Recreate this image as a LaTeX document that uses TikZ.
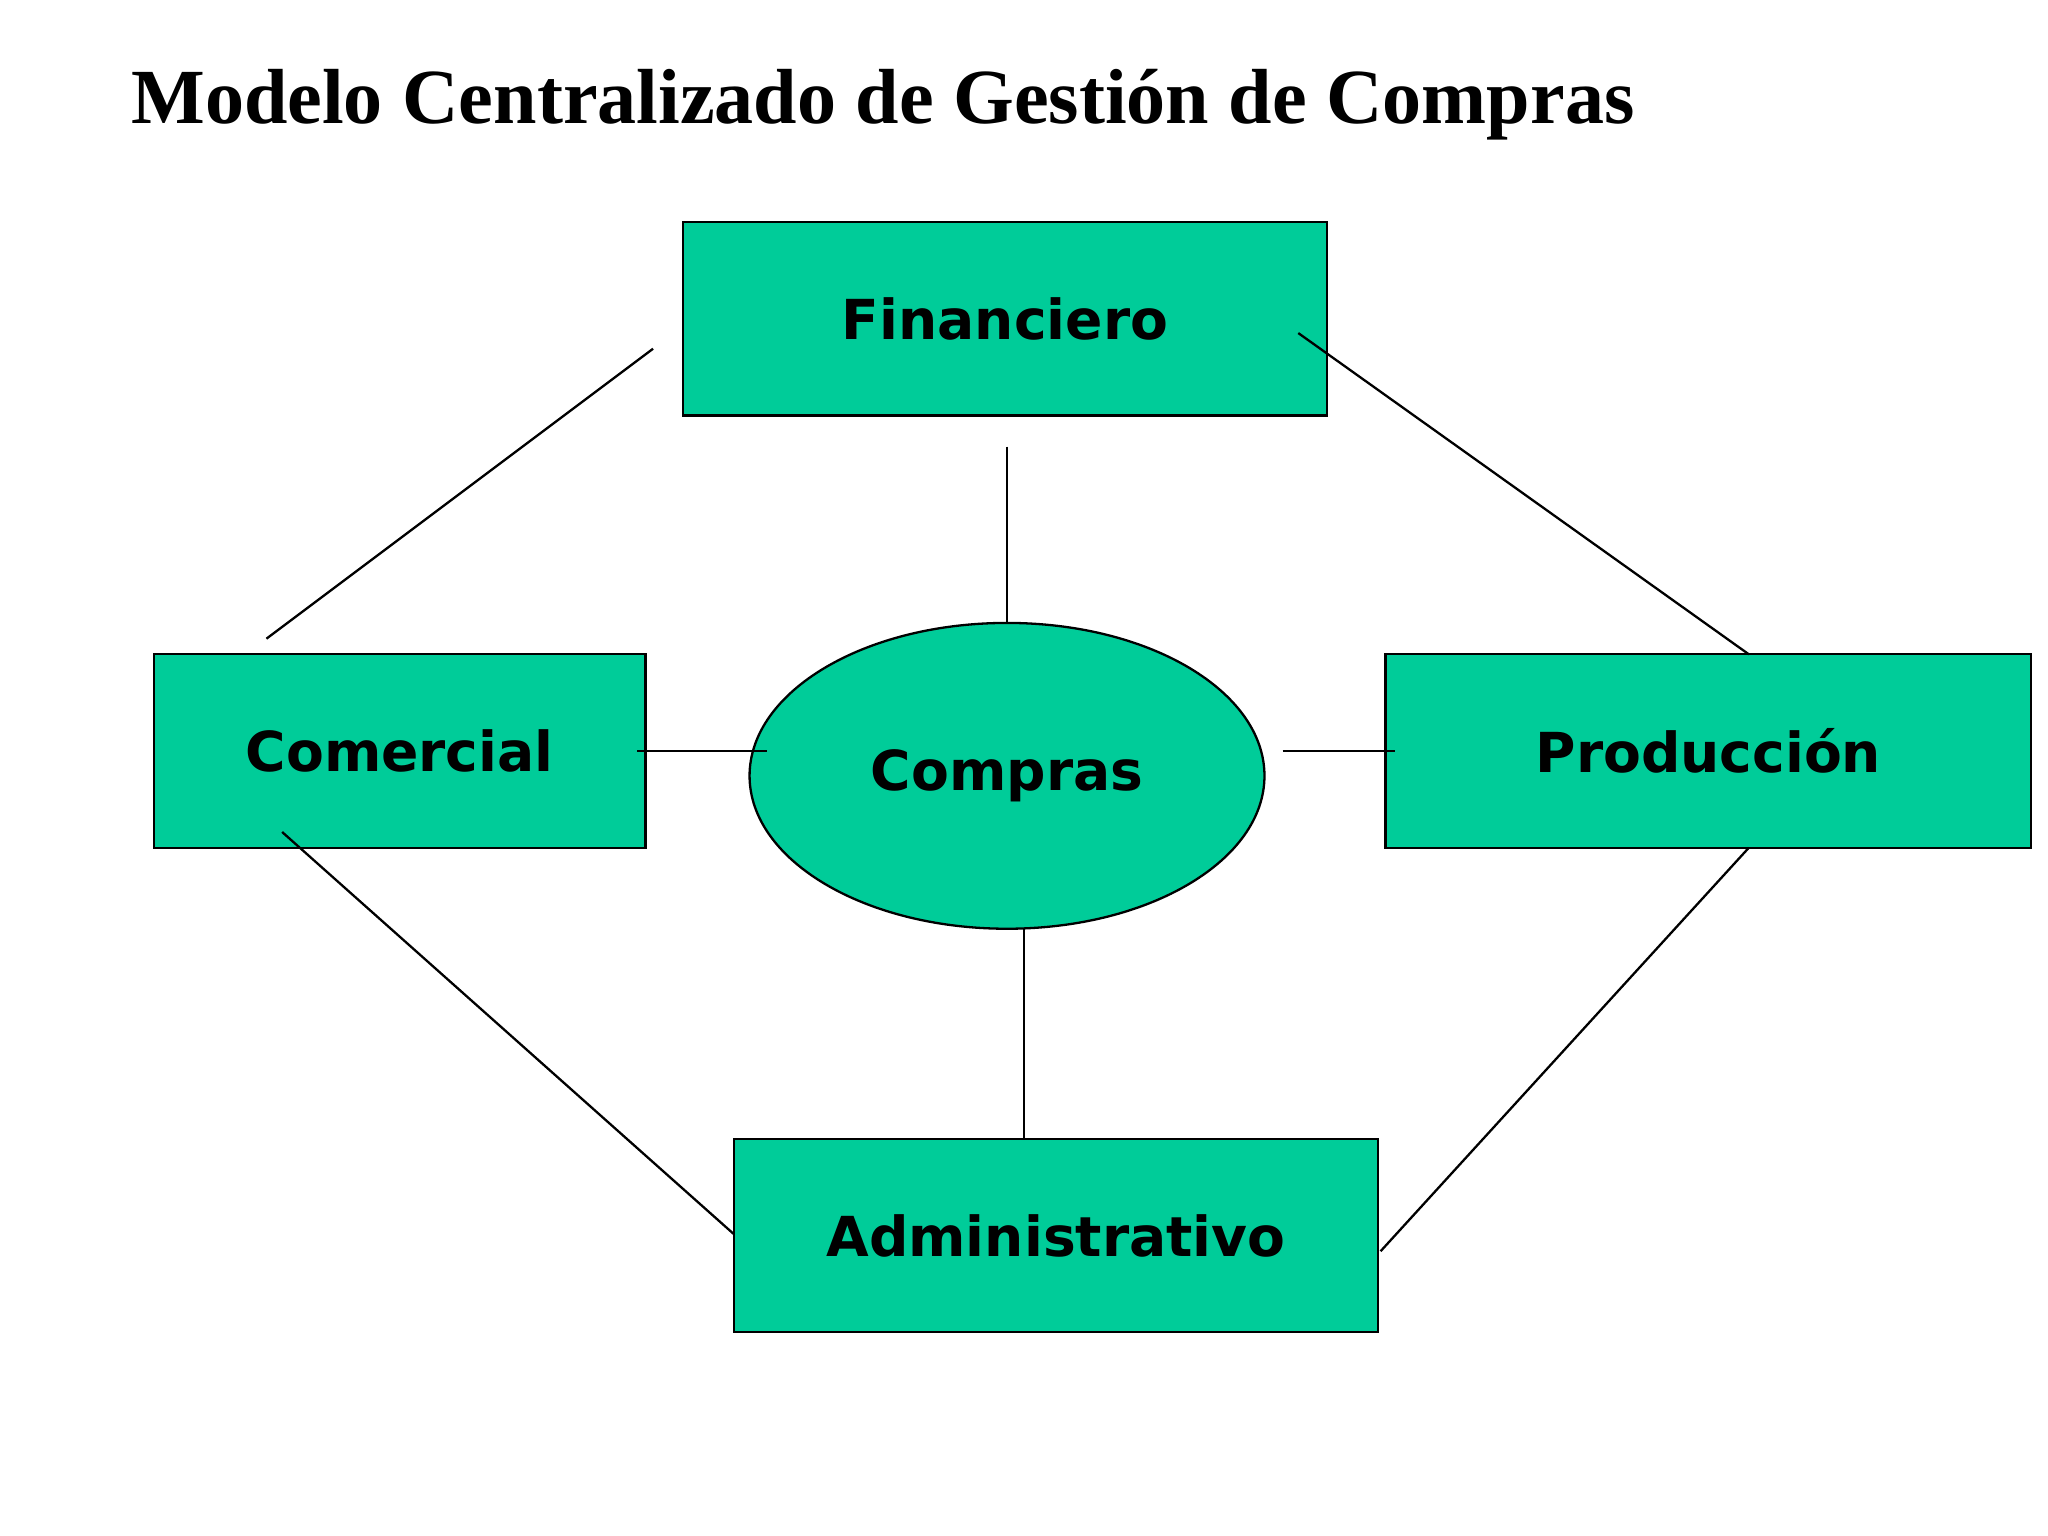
\documentclass[tikz,border=0pt]{standalone}
\usepackage{fontspec}
\setmainfont{Liberation Serif}
\newfontfamily\lbl{DejaVu Sans}
\usetikzlibrary{shapes.geometric}
\definecolor{boxgreen}{HTML}{00CC99}
\begin{document}
\begin{tikzpicture}[x=0.01cm,y=-0.01cm,
  box/.style={draw=black,line width=0.5pt,fill=boxgreen,minimum width=4.93cm,minimum height=1.48cm,inner sep=0pt,font=\lbl\bfseries\fontsize{12}{14}\selectfont},
  conn/.style={line width=0.5pt}]
\useasboundingbox (0,0) rectangle (1568,1176);
\node[font=\bfseries\fontsize{17}{20}\selectfont] (title) at (676,80) {Modelo Centralizado de Gestión de Compras};
\node[box] (fin) at (769.5,244) {Financiero};
\node[box,minimum width=3.76cm] (com) at (306,575) {Comercial};
\node[box,minimum width=4.94cm] (pro) at (1308,575) {Producción};
\node[box] (adm) at (808.5,946) {Administrativo};
\node[ellipse,draw=black,line width=0.5pt,fill=boxgreen,minimum width=3.94cm,minimum height=2.34cm,inner sep=0pt,font=\lbl\bfseries\fontsize{12}{14}\selectfont] (cmp) at (771,594) {Compras};
\coordinate (a1) at (500,267); \coordinate (a2) at (204,489);
\coordinate (b1) at (994,255); \coordinate (b2) at (1339,501);
\coordinate (c1) at (771,342); \coordinate (c2) at (771,477);
\coordinate (d1) at (488,575); \coordinate (d2) at (587,575);
\coordinate (e1) at (982,575); \coordinate (e2) at (1068,575);
\coordinate (f1) at (784,711); \coordinate (f2) at (784,872);
\coordinate (g1) at (216,637); \coordinate (g2) at (562,945);
\coordinate (h1) at (1339,649); \coordinate (h2) at (1057,958);
\foreach \p in {a,b,c,d,e,f,g,h} \draw[conn] (\p1) -- (\p2);
\end{tikzpicture}
\end{document}
